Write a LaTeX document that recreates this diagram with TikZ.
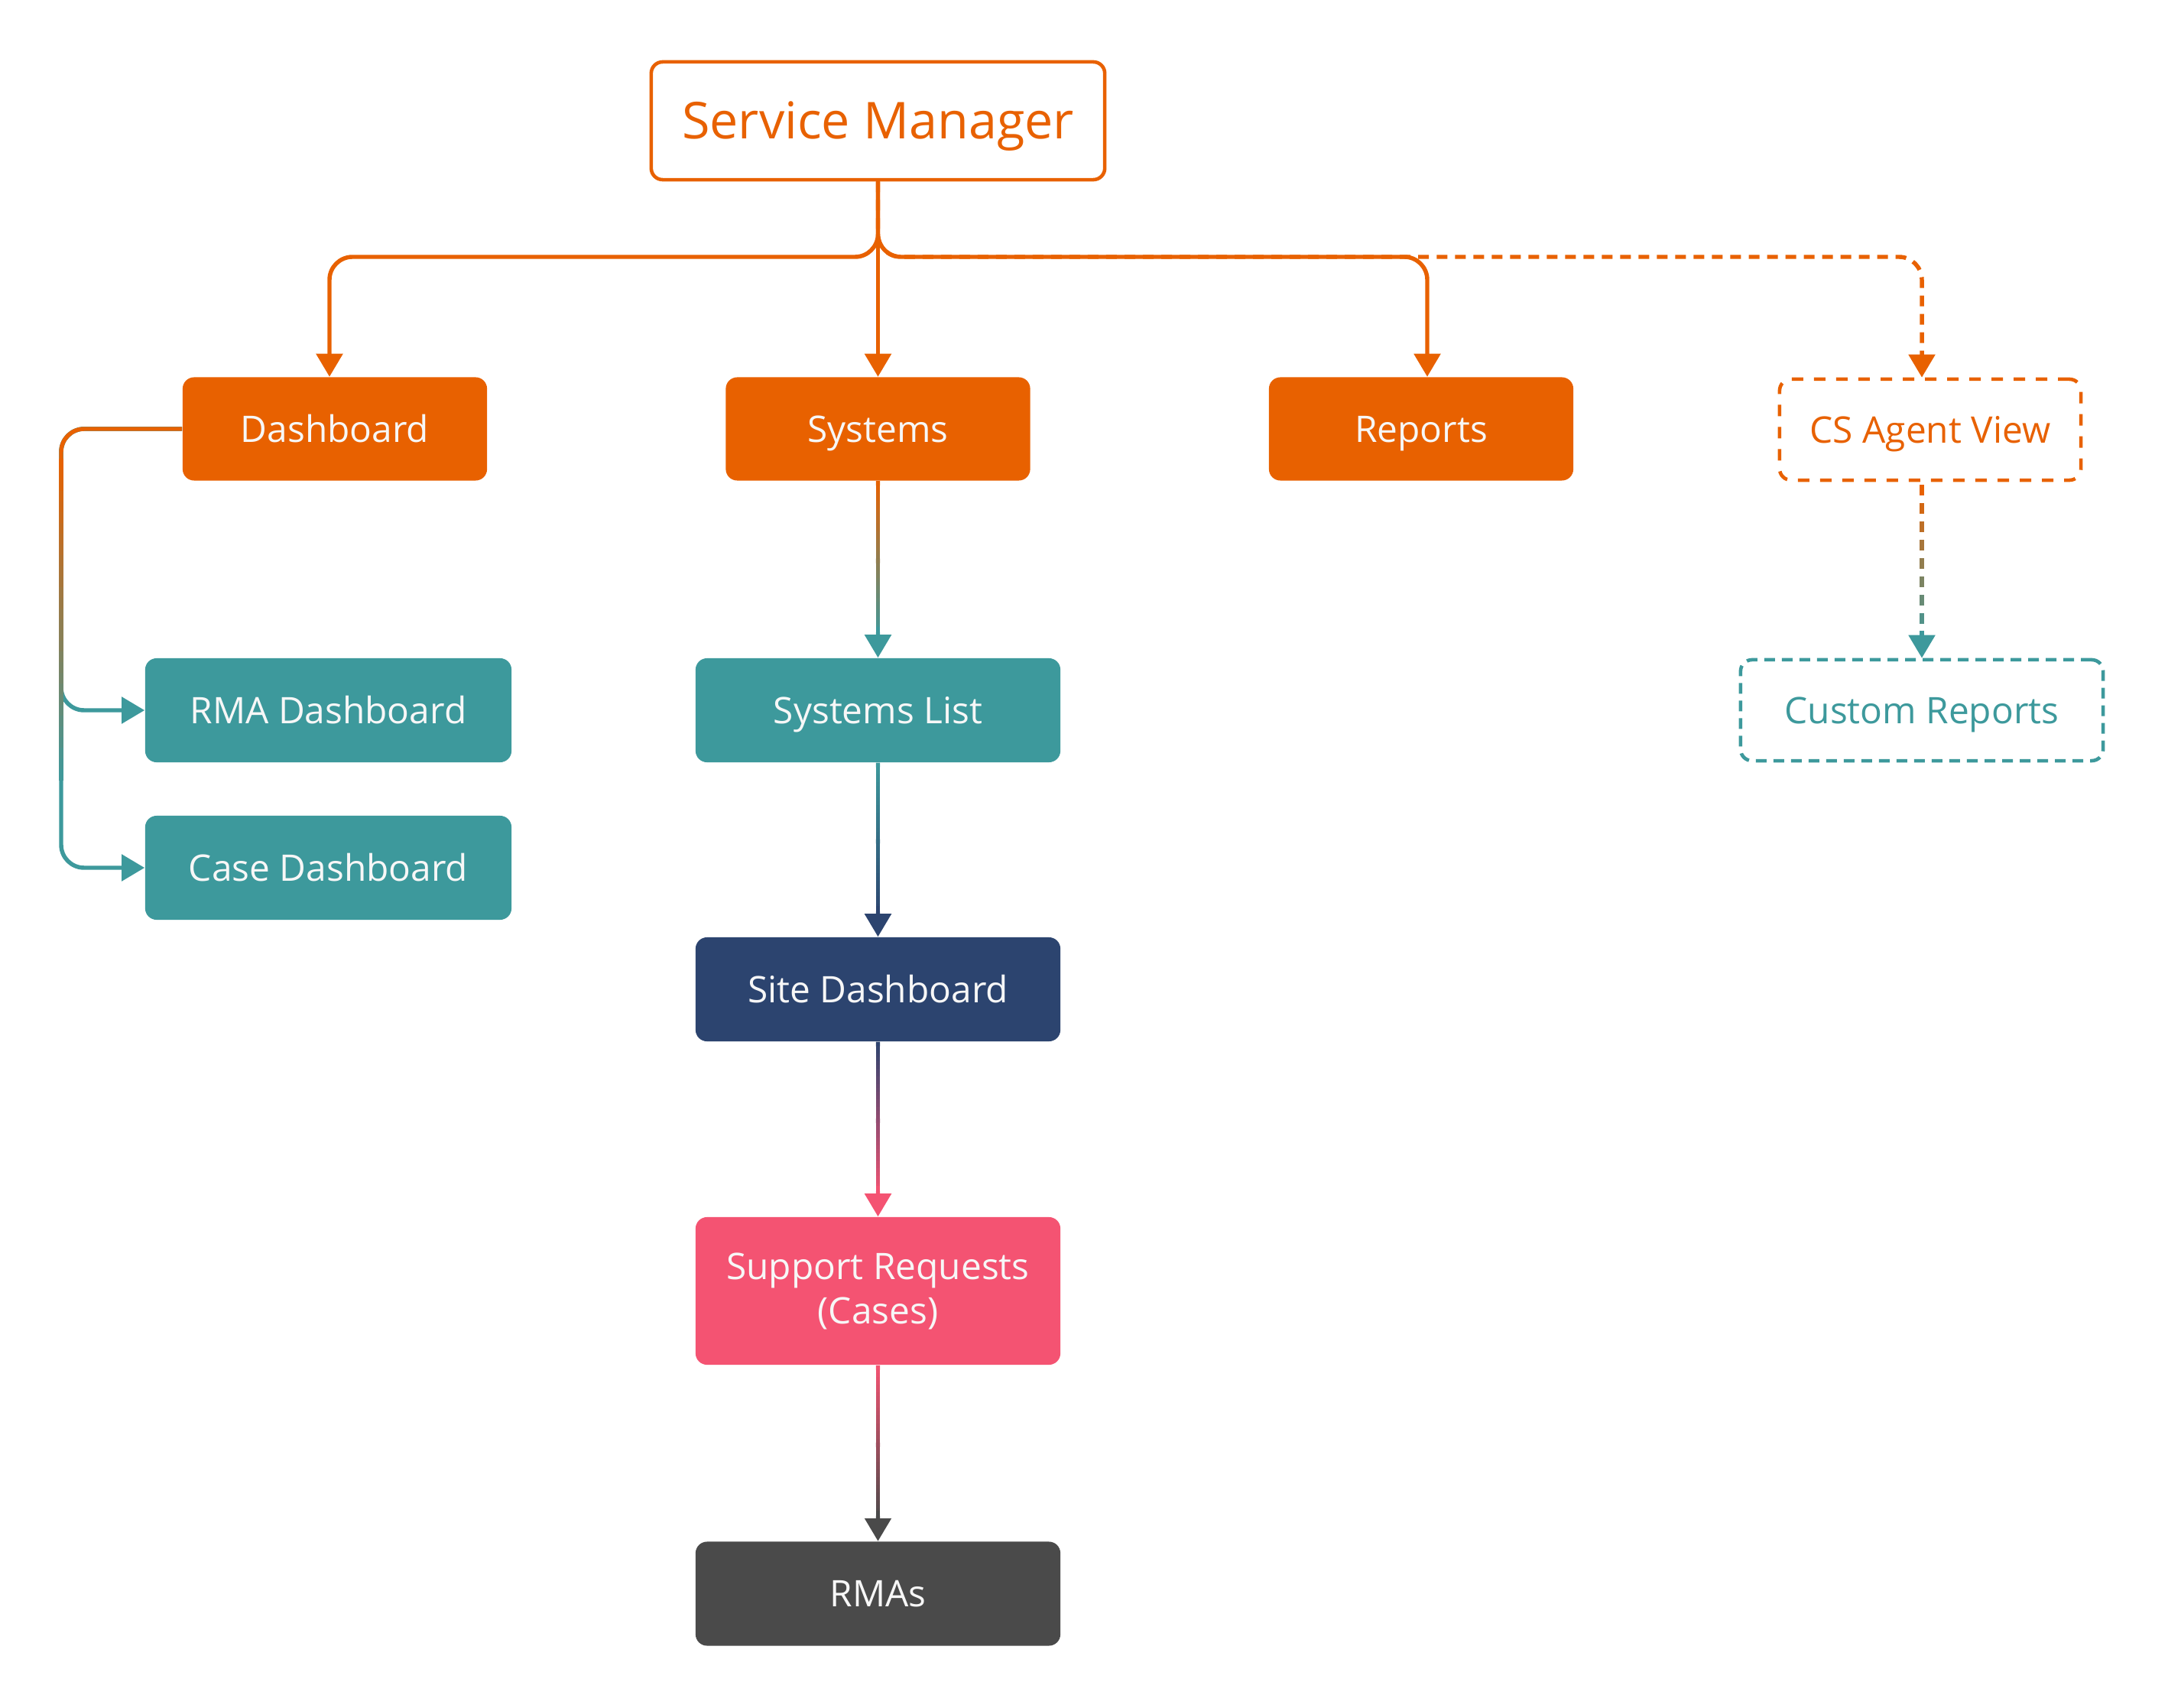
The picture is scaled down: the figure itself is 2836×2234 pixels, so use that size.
\documentclass[tikz,border=0pt]{standalone}
\usepackage{fontspec}
\setmainfont{Open Sans}
\usetikzlibrary{arrows.meta,calc}
\definecolor{cOrange}{HTML}{E86100}
\definecolor{cTeal}{HTML}{3D999C}
\definecolor{cNavy}{HTML}{2C446F}
\definecolor{cPink}{HTML}{F45372}
\definecolor{cGray}{HTML}{4A4A4A}
\definecolor{cText}{HTML}{F7F7F7}
\newcommand{\gradconn}[4]{%
  \foreach \i in {1,...,40}{%
    \pgfmathsetmacro\sa{(\i-1)/40}%
    \pgfmathsetmacro\sb{\i/40+0.004}%
    \pgfmathtruncatemacro\pp{round(100*(\i-0.5)/40)}%
    \draw[conn, line cap=butt, draw=#4!\pp!#3] ($(#1.south)!\sa!($(#2.north)+(0,-28)$)$) -- ($(#1.south)!\sb!($(#2.north)+(0,-28)$)$);
  }
  \draw[conn, draw=#4, fill=#4, -{Triangle[width=0.34cm,length=0.30cm]}] ($(#2.north)+(0,-40)$) -- (#2.north);
}
\begin{document}
\begin{tikzpicture}[x=0.01cm,y=-0.01cm,
  box/.style={rectangle, rounded corners=0.15cm, minimum width=3.98cm, minimum height=1.35cm,
    inner sep=0pt, font=\fontsize{13.6}{16.5}\selectfont, text=cText, align=center,
    text height=9.8pt, text depth=0pt},
  conn/.style={line width=1.55pt},
  tip/.style={-{Triangle[width=0.34cm,length=0.30cm]}},
  dashc/.style={dash pattern=on 0.14cm off 0.10cm},
]
\fill[white] (0,0) rectangle (2836,2234);

% nodes
\node[box, draw=cOrange, fill=white, line width=1.3pt, text=cOrange,
  minimum width=5.93cm, minimum height=1.54cm, font=\fontsize{18.9}{22}\selectfont,
  text height=13.5pt] (sm) at (1148.5,158) {Service Manager};
\node[box, fill=cOrange] (dash) at (438,561) {Dashboard};
\node[box, fill=cOrange] (sys) at (1148.5,561) {Systems};
\node[box, fill=cOrange] (rep) at (1859,561) {Reports};
\node[box, draw=cOrange, line width=1.3pt, dash pattern=on 0.15cm off 0.14cm, text=cOrange,
  minimum width=3.94cm, minimum height=1.32cm] (csa) at (2525,562) {CS Agent View};
\node[box, fill=cTeal, minimum width=4.79cm, minimum height=1.36cm] (rma) at (429.5,929) {RMA Dashboard};
\node[box, fill=cTeal, minimum width=4.79cm, minimum height=1.36cm] (case) at (429.5,1135) {Case Dashboard};
\node[box, fill=cTeal, minimum width=4.77cm, minimum height=1.36cm] (sl) at (1148.5,929) {Systems List};
\node[box, fill=cNavy, minimum width=4.77cm, minimum height=1.36cm] (site) at (1148.5,1294) {Site Dashboard};
\node[box, fill=cPink, minimum width=4.77cm, minimum height=1.93cm, text height=, text depth=] (sr) at (1148.5,1688.5) {Support Requests\\(Cases)};
\node[box, fill=cGray, minimum width=4.77cm, minimum height=1.36cm] (rmas) at (1148.5,2084.5) {RMAs};
\node[box, draw=cTeal, line width=1.3pt, dash pattern=on 0.14cm off 0.09cm, text=cTeal,
  minimum width=4.74cm, minimum height=1.32cm] (cr) at (2514,929) {Custom Reports};

% bus coordinates
\coordinate (busL) at (431,336);
\coordinate (busR) at (1867,336);
\coordinate (busC) at (2514,336);
\coordinate (lx) at (80,561);

% top connectors
\draw[conn, cOrange, dashc, rounded corners=0.3cm, tip] (sm.south) |- (busC) -- (busC |- csa.north);
\draw[conn, cOrange, rounded corners=0.3cm, tip] (sm.south) |- (busL) -- (busL |- dash.north);
\draw[conn, cOrange, rounded corners=0.3cm, tip] (sm.south) |- (busR) -- (busR |- rep.north);
\draw[conn, cOrange, tip] (sm.south) -- (sys.north);

% dashboard connectors
\draw[conn, cTeal, rounded corners=0.3cm, tip] (dash.west) -- (lx) |- (rma.west);
\draw[conn, cTeal, rounded corners=0.3cm, tip] (dash.west) -- (lx) |- (case.west);
\draw[conn, cOrange, rounded corners=0.3cm] (dash.west) -- (lx) -- ($(lx)+(0,50)$);
\foreach \i in {1,...,30}{
  \pgfmathsetmacro\ya{600+(\i-1)*14}
  \pgfmathsetmacro\yb{600+\i*14+1}
  \pgfmathtruncatemacro\pp{round(100*(\i-0.5)/30)}
  \draw[conn, line cap=butt, draw=cTeal!\pp!cOrange] ($(lx)+(0,\ya-561)$) -- ($(lx)+(0,\yb-561)$);
}

% vertical chain
\gradconn{sys}{sl}{cOrange}{cTeal}
\gradconn{sl}{site}{cTeal}{cNavy}
\gradconn{site}{sr}{cNavy}{cPink}
\gradconn{sr}{rmas}{cPink}{cGray}

% dashed gradient CS Agent View -> Custom Reports
\foreach \k in {0,...,8}{
  \pgfmathsetmacro\ya{4+24*\k}
  \pgfmathsetmacro\yb{4+24*\k+14}
  \pgfmathtruncatemacro\pp{round(100*\k/8)}
  \draw[conn, line cap=butt, draw=cTeal!\pp!cOrange] ($(csa.south -| cr.north)+(0,\ya)$) -- ($(csa.south -| cr.north)+(0,\yb)$);
}
\draw[conn, cTeal, tip] ($(cr.north)+(0,-36)$) -- (cr.north);
\end{tikzpicture}
\end{document}
